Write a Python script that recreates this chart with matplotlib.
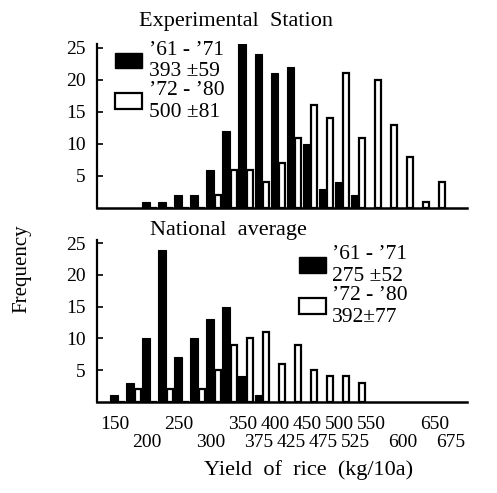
# -*- coding: utf-8 -
import numpy as np
import matplotlib
matplotlib.use("Agg")
import matplotlib.pyplot as plt
from matplotlib.patches import Patch

plt.rcParams['font.family'] = ['Liberation Serif', 'DejaVu Serif']

# bins of 25 kg/10a
bins_exp = [200, 225, 250, 275, 300, 325, 350, 375, 400, 425, 450, 475, 500, 525, 550, 575, 600, 625, 650]
exp_61_71 = [1, 1, 2, 2, 6, 12, 26, 24, 21, 22, 10, 3, 4, 2, 0, 0, 0, 0, 0]
exp_72_80 = [0, 0, 0, 0, 2, 6, 6, 4, 7, 11, 16, 14, 21, 11, 20, 13, 8, 1, 4]

bins_nat = [150, 175, 200, 225, 250, 275, 300, 325, 350, 375, 400, 425, 450, 475, 500, 525]
nat_61_71 = [1, 3, 10, 24, 7, 10, 13, 15, 4, 1, 0, 0, 0, 0, 0, 0]
nat_72_80 = [0, 2, 0, 2, 0, 2, 5, 9, 10, 11, 6, 9, 5, 4, 4, 3]

ticks_upper = [150, 250, 350, 400, 450, 500, 550, 650]
ticks_lower = [200, 300, 375, 425, 475, 525, 600, 675]

leg_exp = ["’61 - ’71\n393 ±59", "’72 - ’80\n500 ±81"]
leg_nat = ["’61 - ’71\n275 ±52", "’72 - ’80\n392±77"]

fig = plt.figure(figsize=(4.97, 4.93), dpi=100)
ax1 = fig.add_axes([0.195, 0.578, 0.745, 0.333])
ax2 = fig.add_axes([0.195, 0.185, 0.745, 0.328])

def panel(ax, bins, black, white, labels, leg_anchor, top):
    b = np.array(bins)
    ax.bar(b - 1, black, width=12, color='black', edgecolor='black', linewidth=0.8)
    ax.bar(b + 11, white, width=9, color='white', edgecolor='black', linewidth=1.6)
    ax.set_xlim(122, 700)
    ax.set_ylim(0, top)
    for s in ['top', 'right']:
        ax.spines[s].set_visible(False)
    ax.spines['left'].set_linewidth(1.6)
    ax.spines['bottom'].set_linewidth(1.8)
    ax.set_yticks([5, 10, 15, 20, 25])
    ax.tick_params(axis='y', direction='in', length=4, width=1.2, pad=8, labelsize=14)
    ax.set_xticks(ticks_upper)
    ax.set_xticks(ticks_lower, minor=True)
    ax.tick_params(axis='x', which='both', length=0)
    handles = [Patch(facecolor='black', edgecolor='black'),
               Patch(facecolor='white', edgecolor='black', linewidth=1.6)]
    ax.legend(handles, labels, loc='upper left', bbox_to_anchor=leg_anchor, frameon=False,
              fontsize=15.5, handlelength=1.25, handleheight=0.75, handletextpad=0.3,
              labelspacing=0.0, borderpad=0, borderaxespad=0)

panel(ax1, bins_exp, exp_61_71, exp_72_80, leg_exp, (0.05, 1.02), 25.6)
panel(ax2, bins_nat, nat_61_71, nat_72_80, leg_nat, (0.545, 0.97), 25.5)

ax1.set_xticklabels([])
ax1.set_xticklabels([], minor=True)
ax2.set_xticklabels([str(t) for t in ticks_upper], fontsize=14)
ax2.set_xticklabels([str(t) for t in ticks_lower], minor=True, fontsize=14)
ax2.tick_params(axis='x', which='major', pad=10)
ax2.tick_params(axis='x', which='minor', pad=23)

fig.text(0.475, 0.957, "Experimental  Station", ha='center', va='center', fontsize=16)
fig.text(0.459, 0.533, "National  average", ha='center', va='center', fontsize=16)
fig.text(0.044, 0.456, "Frequency", rotation=90, ha='center', va='center', fontsize=15)
fig.text(0.62, 0.047, "Yield  of  rice  (kg/10a)", ha='center', va='center', fontsize=16)

fig.savefig("out.png", dpi=100)
